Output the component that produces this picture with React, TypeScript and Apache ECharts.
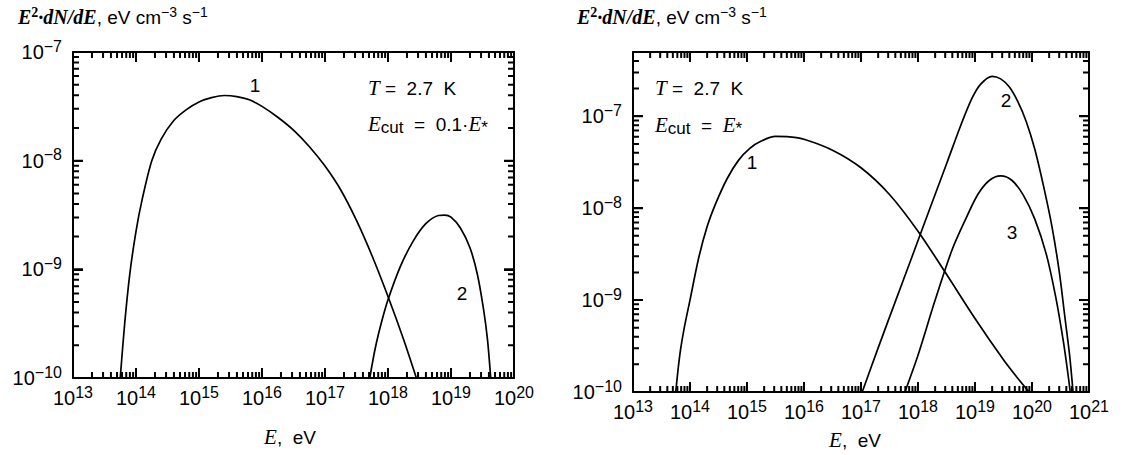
import React, { useEffect, useRef } from "react";
import * as echarts from "echarts";

// ---------- data ----------
// Left panel: E_cut = 0.1·E*
const leftCurve1: [number, number][] = [
  [5.62e13, 1.0e-10], [6.61e13, 3.16e-10], [7.94e13, 8.91e-10], [1.0e14, 2.24e-9],
  [1.26e14, 4.47e-9], [1.78e14, 1.0e-8], [2.51e14, 1.58e-8], [3.98e14, 2.34e-8],
  [6.31e14, 2.95e-8], [1.0e15, 3.47e-8], [1.58e15, 3.8e-8], [2.51e15, 3.98e-8],
  [3.98e15, 3.89e-8], [6.31e15, 3.63e-8], [1.0e16, 3.16e-8], [1.78e16, 2.51e-8],
  [3.16e16, 1.91e-8], [5.62e16, 1.35e-8], [1.0e17, 8.91e-9], [1.78e17, 5.37e-9],
  [3.16e17, 2.82e-9], [5.62e17, 1.32e-9], [1.0e18, 5.62e-10], [1.78e18, 2.24e-10],
  [2.82e18, 1.0e-10],
];
const leftCurve2: [number, number][] = [
  [5.13e17, 1e-10], [6.31e17, 1.91e-10], [7.94e17, 3.31e-10], [1.0e18, 5.25e-10],
  [1.58e18, 1.07e-9], [2.51e18, 1.82e-9], [3.98e18, 2.63e-9], [6.31e18, 3.13e-9],
  [7.94e18, 3.16e-9], [1.0e19, 3.02e-9], [1.41e19, 2.4e-9], [2.0e19, 1.58e-9],
  [2.63e19, 8.91e-10], [3.31e19, 4.17e-10], [3.8e19, 2.24e-10], [4.27e19, 1e-10],
];
// Right panel: E_cut = E*
const rightCurve1: [number, number][] = [
  [5.62e13, 1e-10], [6.61e13, 2.51e-10], [7.94e13, 5.01e-10], [1.0e14, 1.0e-9],
  [1.41e14, 2.82e-9], [2.0e14, 6.31e-9], [2.82e14, 1.12e-8], [4.47e14, 2.09e-8],
  [7.08e14, 3.31e-8], [1.12e15, 4.47e-8], [1.78e15, 5.37e-8], [3.16e15, 6.03e-8],
  [5.62e15, 5.96e-8], [1.0e16, 5.62e-8], [3.16e16, 4.27e-8], [1.0e17, 2.75e-8],
  [3.16e17, 1.41e-8], [1.0e18, 5.62e-9], [3.16e18, 1.91e-9], [1.0e19, 6.31e-10],
  [3.16e19, 2.24e-10], [5.62e19, 1.41e-10], [8.91e19, 1e-10],
];
const rightCurve2: [number, number][] = [
  [1.05e17, 1e-10], [2.0e17, 3.02e-10], [3.98e17, 9.55e-10], [7.94e17, 3.02e-9],
  [1.58e18, 9.55e-9], [3.16e18, 3.02e-8], [5.62e18, 7.94e-8], [8.91e18, 1.58e-7],
  [1.26e19, 2.24e-7], [2.0e19, 2.72e-7], [2.82e19, 2.55e-7], [3.98e19, 2.09e-7],
  [5.62e19, 1.45e-7], [7.94e19, 8.71e-8], [1.12e20, 4.37e-8], [1.58e20, 1.78e-8],
  [2.24e20, 6.31e-9], [3.02e20, 2.0e-9], [3.8e20, 6.31e-10], [4.57e20, 2.51e-10],
  [5.25e20, 1e-10],
];
const rightCurve3: [number, number][] = [
  [5.89e17, 1e-10], [1.0e18, 2.51e-10], [2.0e18, 1.0e-9], [3.98e18, 3.55e-9],
  [7.08e18, 7.94e-9], [1.12e19, 1.41e-8], [1.78e19, 2.0e-8], [2.82e19, 2.24e-8],
  [4.47e19, 2.0e-8], [7.08e19, 1.38e-8], [1.12e20, 7.59e-9], [1.78e20, 3.16e-9],
  [2.63e20, 1.05e-9], [3.55e20, 3.55e-10], [4.27e20, 1.58e-10], [4.68e20, 1e-10],
];

const leftXRange: [number, number] = [1e13, 1e20];
const leftYRange: [number, number] = [1e-10, 1e-7];
const rightXRange: [number, number] = [1e13, 1e21];
const rightYRange: [number, number] = [1e-10, 5e-7];
const tickMultipliers = [1, 2, 3, 4, 5, 6, 7, 8, 9];

const leftLabels = [
  { text: "1", x: 255, y: 85 },
  { text: "2", x: 462, y: 293 },
];
const rightLabels = [
  { text: "1", x: 752, y: 162 },
  { text: "2", x: 1006, y: 100 },
  { text: "3", x: 1012, y: 232 },
];

// ---------- helpers ----------
const SANS = "Liberation Sans, Arial, sans-serif";
const SERIF = "Liberation Serif, Times New Roman, serif";
const MAJOR_LEN = 10;
const MINOR_LEN = 6;
const TW = 2;

function tickValues(r: [number, number]) {
  const out: { v: number; major: boolean }[] = [];
  const lo = Math.floor(Math.log10(r[0]) + 1e-9);
  const hi = Math.ceil(Math.log10(r[1]) - 1e-9);
  for (let d = lo; d <= hi; d++) {
    tickMultipliers.forEach((k) => {
      const v = k * Math.pow(10, d);
      if (v >= r[0] * 0.999 && v <= r[1] * 1.001) out.push({ v, major: k === 1 });
    });
  }
  return out;
}

const powLabel = (v: number) => {
  const l = Math.log10(v);
  const e = Math.round(l);
  if (Math.abs(l - e) > 1e-6) return "";
  return `{b|10}{s|${e < 0 ? "\u2212" + -e : e}}`;
};
const powRich = {
  b: { fontSize: 20, fontFamily: SANS, color: "#000", lineHeight: 28 },
  s: { fontSize: 16, fontFamily: SANS, color: "#000", lineHeight: 13, verticalAlign: "top" },
};

const textRich = {
  ib: { fontSize: 20, fontFamily: SERIF, fontStyle: "italic", fontWeight: "bold", color: "#000", lineHeight: 24 },
  i: { fontSize: 21, fontFamily: SERIF, fontStyle: "italic", color: "#000", lineHeight: 24 },
  si: { fontSize: 14, fontFamily: SERIF, fontWeight: "bold", color: "#000", lineHeight: 12, verticalAlign: "top" },
  n: { fontSize: 19, fontFamily: SANS, color: "#000", lineHeight: 24 },
  n2: { fontSize: 19, fontFamily: SANS, color: "#000", lineHeight: 24 },
  s: { fontSize: 14, fontFamily: SANS, color: "#000", lineHeight: 12, verticalAlign: "top" },
  sub: { fontSize: 17, fontFamily: SANS, color: "#000", lineHeight: 12, verticalAlign: "bottom" },
};

const yTitle = "{ib|E}{si|2}{ib|·dN/dE}{n|, eV cm}{s|\u22123}{n| s}{s|\u22121}";
const xTitle = "{i|E}{n2|,  eV}";

function makeAxis(range: [number, number], grid: number, isX: boolean, mirror: boolean) {
  return {
    type: "log",
    logBase: 10,
    gridIndex: grid,
    position: isX ? (mirror ? "top" : "bottom") : mirror ? "right" : "left",
    min: range[0],
    max: range[1],
    interval: 1,
    axisLine: { show: true, onZero: false, lineStyle: { color: "#000", width: 2 } },
    axisTick: { show: true, inside: true, length: MAJOR_LEN, lineStyle: { color: "#000", width: TW } },
    splitLine: { show: false },
    minorTick: { show: false },
    axisLabel: mirror
      ? { show: false }
      : {
          formatter: powLabel,
          rich: powRich,
          margin: isX ? 6 : 11,
          showMinLabel: true,
          showMaxLabel: true,
        },
  };
}

const curve = (data: [number, number][], xi: number) => ({
  type: "line",
  xAxisIndex: xi,
  yAxisIndex: xi,
  data,
  showSymbol: false,
  smooth: 0.3,
  clip: true,
  silent: true,
  lineStyle: { color: "#000", width: 1.7 },
});

const textEl = (text: string, x: number, y: number, align = "left") => ({
  type: "text",
  x,
  y,
  silent: true,
  style: { text, rich: textRich, fill: "#000", align, verticalAlign: "middle" },
});

export default function App() {
  const ref = useRef<HTMLDivElement>(null);
  useEffect(() => {
    if (!ref.current) return;
    const chart = echarts.init(ref.current, undefined, { renderer: "svg" });
    const graphics: any[] = [
      textEl(yTitle, 18, 17),
      textEl(yTitle, 577, 17),
      textEl(xTitle, 290, 437, "center"),
      textEl(xTitle, 855, 440, "center"),
      textEl("{i|T}{n2| =  2.7  K}", 368, 88),
      textEl("{i|E}{sub|cut}{n2|  =  0.1·}{i|E}{sub|*}", 368, 124),
      textEl("{i|T}{n2| =  2.7  K}", 655, 88),
      textEl("{i|E}{sub|cut}{n2|  =  }{i|E}{sub|*}", 655, 125),
    ];
    [...leftLabels, ...rightLabels].forEach((l) =>
      graphics.push({
        type: "text",
        x: l.x,
        y: l.y,
        silent: true,
        style: { text: l.text, fontSize: 19, fontFamily: SANS, fill: "#000", align: "center", verticalAlign: "middle" },
      })
    );
    const curves = [
      curve(leftCurve1, 0),
      curve(leftCurve2, 0),
      curve(rightCurve1, 1),
      curve(rightCurve2, 1),
      curve(rightCurve3, 1),
    ];
    chart.setOption({
      animation: false,
      backgroundColor: "#fff",
      grid: [
        { left: 73, top: 52, width: 441, height: 326, show: false },
        { left: 633, top: 52, width: 456, height: 340, show: false },
      ],
      xAxis: [
        makeAxis(leftXRange, 0, true, false),
        makeAxis(rightXRange, 1, true, false),
        makeAxis(leftXRange, 0, true, true),
        makeAxis(rightXRange, 1, true, true),
      ],
      yAxis: [
        makeAxis(leftYRange, 0, false, false),
        makeAxis(rightYRange, 1, false, false),
        makeAxis(leftYRange, 0, false, true),
        makeAxis(rightYRange, 1, false, true),
      ],
      series: curves,
      graphic: { elements: graphics },
    });

    // tick marks on all four sides: short line-series segments whose ends are found
    // through the axes' own scales (convertToPixel / convertFromPixel)
    const tickSeriesList: any[] = [];
    const panels: [number, [number, number], [number, number]][] = [
      [0, leftXRange, leftYRange],
      [1, rightXRange, rightYRange],
    ];
    const gap = ["-", "-"];
    panels.forEach(([g, xr, yr]) => {
      const finder = { gridIndex: g };
      const toPx = (x: number, y: number) => chart.convertToPixel(finder, [x, y]) as number[];
      const fromPx = (x: number, y: number) => chart.convertFromPixel(finder, [x, y]) as number[];
      const data: any[] = [];
      tickValues(xr).forEach(({ v, major }) => {
        const len = major ? MAJOR_LEN : MINOR_LEN;
        const pb = toPx(v, yr[0]);
        const pt = toPx(v, yr[1]);
        if (!pb || !pt) return;
        const eb = fromPx(pb[0], pb[1] - len);
        const et = fromPx(pt[0], pt[1] + len);
        data.push([v, yr[0]], [v, eb[1]], gap, [v, yr[1]], [v, et[1]], gap);
      });
      tickValues(yr).forEach(({ v, major }) => {
        const len = major ? MAJOR_LEN : MINOR_LEN;
        const pl = toPx(xr[0], v);
        const pr = toPx(xr[1], v);
        if (!pl || !pr) return;
        const el = fromPx(pl[0] + len, pl[1]);
        const er = fromPx(pr[0] - len, pr[1]);
        data.push([xr[0], v], [el[0], v], gap, [xr[1], v], [er[0], v], gap);
      });
      tickSeriesList.push({
        type: "line",
        xAxisIndex: g,
        yAxisIndex: g,
        data,
        showSymbol: false,
        connectNulls: false,
        clip: false,
        silent: true,
        z: 10,
        lineStyle: { color: "#000", width: TW },
      });
    });
    chart.setOption({ series: [...curves, ...tickSeriesList] });
    return () => chart.dispose();
  }, []);
  return (
    <div
      ref={ref}
      style={{ position: "absolute", left: 0, top: 0, width: 1123, height: 455, background: "#fff" }}
    />
  );
}
